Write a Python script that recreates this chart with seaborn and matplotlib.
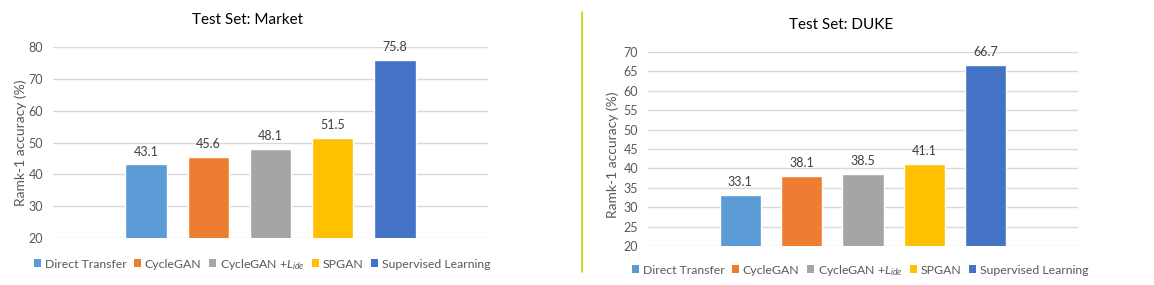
import matplotlib
matplotlib.use("Agg")
import matplotlib.pyplot as plt
import seaborn as sns
from matplotlib.patches import Patch
from matplotlib.lines import Line2D

methods = ["Direct Transfer", "CycleGAN", "CycleGAN +Lide", "SPGAN", "Supervised Learning"]
legend_labels = ["Direct Transfer", "CycleGAN", r"CycleGAN +$L_{ide}$", "SPGAN", "Supervised Learning"]
market_vals = [43.1, 45.6, 48.1, 51.5, 75.8]
duke_vals = [33.1, 38.1, 38.5, 41.1, 66.7]
colors = ["#5B9BD5", "#ED7D31", "#A5A5A5", "#FFC000", "#4472C4"]
market_ticks = [20, 30, 40, 50, 60, 70, 80]
duke_ticks = [20, 25, 30, 35, 40, 45, 50, 55, 60, 65, 70]

sns.set_theme(style="white")
plt.rcParams["font.family"] = ["Lato", "DejaVu Sans"]
plt.rcParams["mathtext.fontset"] = "custom"
plt.rcParams["mathtext.it"] = "Lato:italic"
plt.rcParams["mathtext.rm"] = "Lato"

W, H = 1154, 285
fig = plt.figure(figsize=(W / 100, H / 100), dpi=100)

def box(x0, x1, ytop, ybot):
    return [x0 / W, 1 - ybot / H, (x1 - x0) / W, (ybot - ytop) / H]

grey = "#595959"

def panel(rect, vals, ticks, title, title_xy, leg_xy, ylab_xy):
    ax = fig.add_axes(rect)
    sns.barplot(x=methods, y=vals, hue=methods, palette=colors, ax=ax,
                width=0.67, legend=False, saturation=1)
    ax.set_xlim(-1.5, 5.5)
    ax.set_ylim(ticks[0], ticks[-1])
    ax.set_yticks(ticks)
    ax.set_xticks([])
    ax.set_xlabel("")
    ax.grid(axis="y", color="#D9D9D9", lw=1)
    ax.set_axisbelow(True)
    for s in ax.spines.values():
        s.set_visible(False)
    ax.tick_params(axis="y", colors=grey, labelsize=9, length=0, pad=7)
    ax.set_ylabel("Ramk-1 accuracy (%)", color=grey, fontsize=10)
    ax.yaxis.set_label_coords(*ylab_xy)
    for c in ax.containers:
        ax.bar_label(c, fmt="%.1f", padding=5, color="#404040", fontsize=9)
    fig.text(title_xy[0] / W, 1 - title_xy[1] / H, title, ha="center", va="center",
             fontsize=11, color="black")
    handles = [Patch(facecolor=c, edgecolor="none") for c in colors]
    fig.legend(handles, legend_labels, loc="center",
               bbox_to_anchor=(leg_xy[0] / W, 1 - leg_xy[1] / H), ncol=5,
               frameon=False, fontsize=8.8, labelcolor=grey, handlelength=0.6,
               handleheight=0.6, handletextpad=0.3, columnspacing=0.6)
    return ax

panel(box(53, 488, 47, 238), market_vals, market_ticks, "Test Set: Market", (248, 20), (262, 264), (-0.06, 0.5))
panel(box(648, 1078, 52, 246), duke_vals, duke_ticks, "Test Set: DUKE", (841, 25), (860, 270), (-0.067, 0.47))

fig.add_artist(Line2D([582 / W, 582 / W], [1 - 12 / H, 1 - 272 / H], color="#A8E000", lw=1.2))

fig.savefig("out.png", dpi=100)
